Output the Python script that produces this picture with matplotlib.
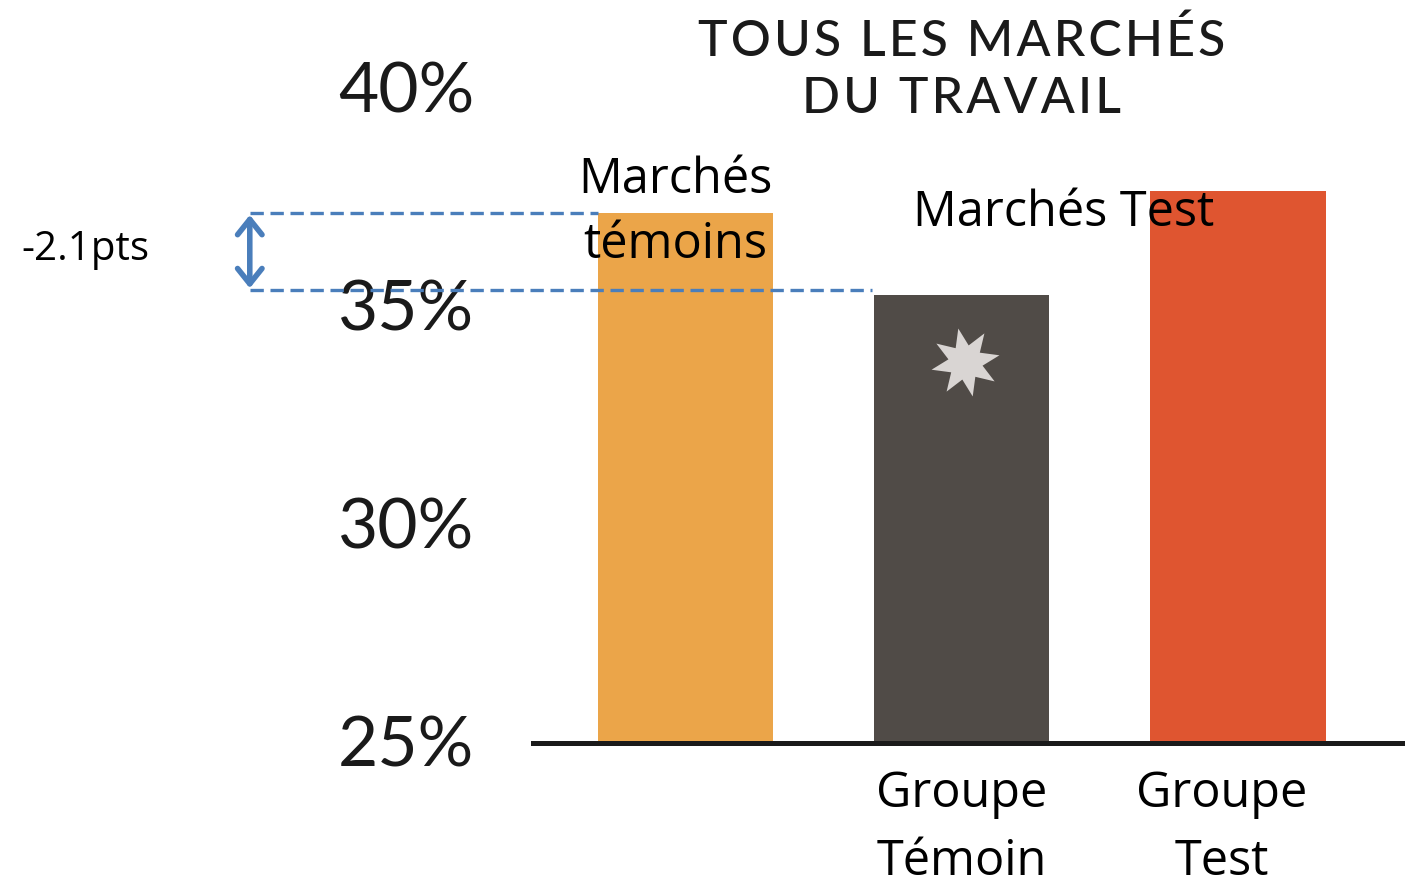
import matplotlib.pyplot as plt
from matplotlib.transforms import blended_transform_factory

# data
groups = ["Marchés\ntémoins", "Groupe\nTémoin", "Groupe\nTest"]
values = [37.16, 35.28, 37.66]
colors = ["#EBA549", "#504B47", "#DF5530"]
yticks = [25, 30, 35, 40]
ytick_labels = ["25%", "30%", "35%", "40%"]
gap_label = "-2.1pts"
title_lines = ["TOUS LES MARCHÉS", "DU TRAVAIL"]

W, H = 1405, 886
fig = plt.figure(figsize=(W / 100, H / 100), dpi=100)
ax = fig.add_axes([533 / W, (H - 743) / H, 1 - 533 / W, 743 / H])

x = list(range(len(values)))
bw = 0.634
ax.bar(x, [v - 25 for v in values], bottom=25, width=bw, color=colors, zorder=2)
ax.set_xlim(-0.554, 2.605)
ax.set_ylim(25, 42.04)
ax.axis("off")
ax.axhline(25, color="#1a1a1a", lw=3.6, zorder=3, clip_on=False)

# y labels
tr = blended_transform_factory(fig.transFigure, ax.transData)
for v, s in zip(yticks, ytick_labels):
    ax.text(338 / W, v - 0.1, s, transform=tr, ha="left", va="center",
            fontsize=50, family="Lato", weight="normal", color="#1a1a1a",
            clip_on=False)

# category labels
sans = "Open Sans"
ax.text(-0.04, values[0], groups[0], ha="center", va="center", fontsize=35,
        family=sans, linespacing=1.4, zorder=4)
ax.text(2 - 0.63, values[2] - 0.5, "Marchés Test", ha="center", va="center",
        fontsize=35, family=sans, zorder=4)
ax.text(1, 25 - 0.6, groups[1], ha="center", va="top", fontsize=35,
        family=sans, linespacing=1.5, clip_on=False)
ax.text(2 - 0.06, 25 - 0.6, groups[2], ha="center", va="top", fontsize=35,
        family=sans, linespacing=1.5, clip_on=False)

# title, letter-spaced
title = "\n".join("\u200a".join(line) for line in title_lines)
fig.text(962 / W, 1 - 70 / H, title, ha="center", va="center", fontsize=36,
         family=["Lato", "DejaVu Sans"], weight="medium", color="#1a1a1a",
         linespacing=1.3)

# star on the control group bar
ax.plot(1.01, values[1] - 1.55, marker=(8, 1, 12), markersize=50,
        color="#D9D5D3", mec="none", zorder=4)

# gap annotation
blue = "#4A7EBB"
xl = -1.58
ax.plot([xl, -bw / 2 - 0.003], [values[0], values[0]], ls=(0, (4, 2)), color=blue,
        lw=2.4, clip_on=False, zorder=5)
ax.plot([xl, 1 - bw / 2 - 0.01], [values[1] + 0.1, values[1] + 0.1], ls=(0, (4, 2)),
        color=blue, lw=2.4, clip_on=False, zorder=5)
ax.annotate("", xy=(xl, values[0] - 0.05), xytext=(xl, values[1] + 0.15),
            arrowprops=dict(arrowstyle="<->,head_length=0.5,head_width=0.4",
                            color=blue, lw=4, mutation_scale=22,
                            shrinkA=0, shrinkB=0, capstyle="round",
                            joinstyle="round"),
            annotation_clip=False, zorder=5)
fig.text(85 / W, 1 - 250 / H, gap_label, ha="center", va="center", fontsize=29,
         family=sans)

fig.savefig("out.png", dpi=100)
